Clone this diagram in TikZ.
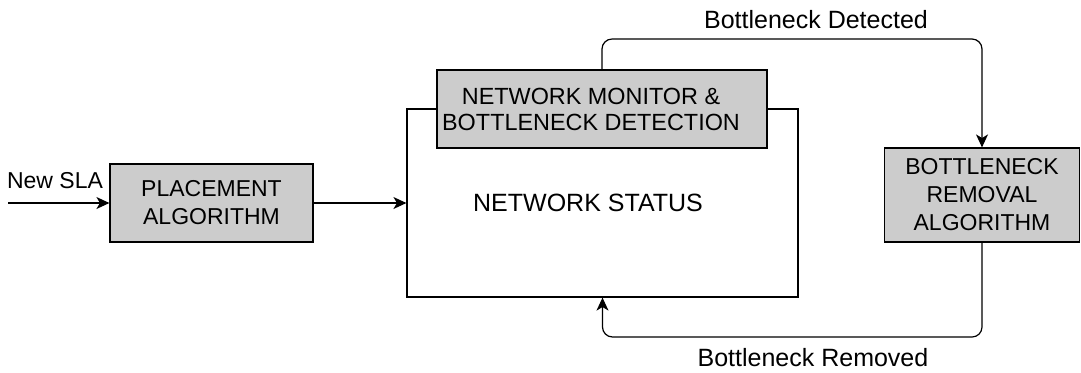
\documentclass[tikz,border=0pt]{standalone}
\usepackage{fontspec}
\setmainfont{Liberation Sans}
\usetikzlibrary{arrows.meta}
\definecolor{boxgray}{HTML}{CCCCCC}
\tikzset{
  txt/.style={font=\fontsize{11.5}{14}\selectfont, inner sep=0pt},
  bigtxt/.style={font=\fontsize{12.5}{15}\selectfont, inner sep=0pt},
  box/.style={txt, draw, line width=0.6pt, align=center},
  graybox/.style={box, fill=boxgray},
  arr/.style={line width=0.6pt, -{Stealth[length=6.5pt,width=6pt,inset=1.8pt]}},
}
\begin{document}
\begin{tikzpicture}[x=0.5pt,y=-0.5pt] % pixel units
\useasboundingbox (0,0) rectangle (1081,372);

\node[box, minimum width=195.5pt, minimum height=94pt,
  label={[bigtxt,xshift=-7.25pt]center:NETWORK STATUS}] (status) at (602.5,203) {};
\node[graybox, minimum width=165pt, minimum height=39pt,
  label={[txt,font=\fontsize{11.7}{13}\selectfont,align=center,xshift=-5.5pt]center:NETWORK MONITOR \&\\BOTTLENECK DETECTION}] (monitor) at (602,109) {};
\node[graybox, minimum width=101.5pt, minimum height=39pt] (place) at (211.5,203) {PLACEMENT\\ALGORITHM};
\node[graybox, minimum width=97.5pt, minimum height=47pt] (removal) at (982,195) {BOTTLENECK\\REMOVAL\\ALGORITHM};

\node[txt] (sla) at (55,181) {New SLA};
\node[bigtxt] (detected) at (816,20) {Bottleneck Detected};
\node[bigtxt] (removed) at (813,358) {Bottleneck Removed};

\coordinate (slastart) at (8,203);
\coordinate (topright) at (982,39);
\coordinate (botright) at (982,337);

\draw[arr] (slastart) -- (place);
\draw[arr] (place) -- (status);
\draw[arr, rounded corners=5pt] (monitor.north) |- (topright) -- (removal.north);
\draw[arr, rounded corners=5pt] (removal.south) -- (botright) -| (status.south);

\end{tikzpicture}
\end{document}
